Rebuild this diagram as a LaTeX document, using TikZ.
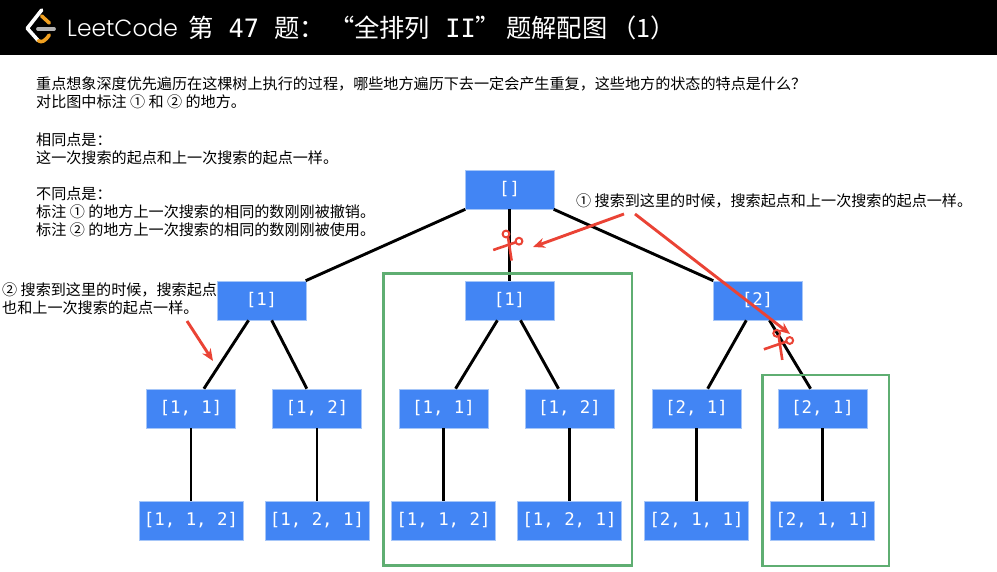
\documentclass[tikz,border=0pt]{standalone}
\usepackage{fontspec}
\setmainfont{Noto Sans CJK SC}
\newfontfamily\logofont{Poppins Light}
\setmonofont{DejaVu Sans Mono}
\usetikzlibrary{arrows.meta}
\definecolor{hdr}{HTML}{000000}
\definecolor{blu}{HTML}{4285F4}
\definecolor{blb}{HTML}{A6C6F8}
\definecolor{grn}{HTML}{5FAE72}
\definecolor{rd}{HTML}{EA4335}
\definecolor{org}{HTML}{F0A020}
\definecolor{gry}{HTML}{B3B3B3}
\newcommand\tm[1]{{\ttfamily #1}}
\tikzset{
  treenode/.style={draw=blb,line width=0.6pt,fill=blu,text=white,font=\ttfamily\fontsize{17.4}{18}\selectfont,minimum height=39pt,inner sep=0pt,anchor=center},
  nodeA/.style={treenode,minimum width=89pt},
  nodeB/.style={treenode,minimum width=104pt},
  edge/.style={draw=black,line width=2.9pt},
  redarrow/.style={draw=rd,line width=2.9pt,-{Stealth[length=12pt,width=10pt]}},
  greenbox/.style={draw=grn,line width=2.8pt},
  note/.style={anchor=north west,inner sep=0pt,align=left,font=\fontsize{15.1}{18}\selectfont,text=black},
  scissor/.pic={
    \draw[rd,line width=2pt] (-3.6,-8.6) circle (3.4pt);
    \draw[rd,line width=2pt] (9.4,-1.4) circle (3.4pt);
    \draw[rd,line width=2.6pt] (-1.6,-5.6) -- (2,18);
    \draw[rd,line width=2.6pt] (6.4,-0.4) -- (-16.4,7.4);
  }
}
\begin{document}
\begin{tikzpicture}[x=1pt,y=-1pt]
\useasboundingbox (0,0) rectangle (997,572);
\fill[hdr] (0,0) rectangle (997,55);
% logo
\draw[white,line width=3.6pt,line cap=round,line join=round] (41.7,10) -- (27.3,28.3) -- (38.3,40.7);
\draw[org,line width=3.6pt,line cap=round,line join=round] (41.7,16) -- (49.3,23);
\draw[org,line width=3.6pt,line cap=round,line join=round] (38.3,40.7) .. controls (42,43) and (45,41) .. (49.3,35);
\draw[gry,line width=3.8pt,line cap=round] (38,29) -- (54,29);
\node[anchor=west,inner sep=0pt,text=white,font=\logofont\fontsize{23.4}{25}\selectfont] (logo) at (67,28) {LeetCode};
\node[anchor=west,inner sep=0pt,text=white,font=\fontsize{25.3}{25}\selectfont] (title) at (188,28) {第\tm{ 47 }题：\hspace{4pt}“全排列\tm{ II}”\hspace{5pt}题解配图\hspace{4pt}（1）};
% texts
\node[note] (t1) at (36,77) {重点想象深度优先遍历在这棵树上执行的过程，哪些地方遍历下去一定会产生重复，这些地方的状态的特点是什么？\\对比图中标注 ① 和 ② 的地方。};
\node[note] (t2) at (36,133) {相同点是：\\这一次搜索的起点和上一次搜索的起点一样。};
\node[note] (t3) at (36,187) {不同点是：\\标注 ① 的地方上一次搜索的相同的数刚刚被撤销。\\标注 ② 的地方上一次搜索的相同的数刚刚被使用。};
\node[note] (t4) at (576,194) {① 搜索到这里的时候，搜索起点和上一次搜索的起点一样。};
\node[note] (t5) at (2,283) {② 搜索到这里的时候，搜索起点\\也和上一次搜索的起点一样。};
% tree nodes
\node[nodeA] (r) at (509.5,189.5) {[]};
\node[nodeA] (a) at (261.5,300.5) {[1]};
\node[nodeA] (b) at (509.5,300.5) {[1]};
\node[nodeA] (c) at (757.5,300.5) {[2]};
\node[nodeA] (a1) at (191,408.5) {[1, 1]};
\node[nodeA] (a2) at (317,408.5) {[1, 2]};
\node[nodeA] (b1) at (443.5,408.5) {[1, 1]};
\node[nodeA] (b2) at (569.5,408.5) {[1, 2]};
\node[nodeA] (c1) at (696.5,408.5) {[2, 1]};
\node[nodeA] (c2) at (822.5,408.5) {[2, 1]};
\node[nodeB] (a1x) at (191,520.5) {[1, 1, 2]};
\node[nodeB] (a2x) at (317,520.5) {[1, 2, 1]};
\node[nodeB] (b1x) at (443.5,520.5) {[1, 1, 2]};
\node[nodeB] (b2x) at (569.5,520.5) {[1, 2, 1]};
\node[nodeB] (c1x) at (696.5,520.5) {[2, 1, 1]};
\node[nodeB] (c2x) at (822.5,520.5) {[2, 1, 1]};
% edges
\draw[edge] (r) -- (a);
\draw[edge] (r) -- (b);
\draw[edge] (r) -- (c);
\draw[edge] (a) -- (a1);
\draw[edge] (a) -- (a2);
\draw[edge] (b) -- (b1);
\draw[edge] (b) -- (b2);
\draw[edge] (c) -- (c1);
\draw[edge] (c) -- (c2);
\draw[edge] (a1) -- (a1x);
\draw[edge] (a2) -- (a2x);
\draw[edge] (b1) -- (b1x);
\draw[edge] (b2) -- (b2x);
\draw[edge] (c1) -- (c1x);
\draw[edge] (c2) -- (c2x);
% green boxes
\draw[greenbox] (383.5,273.5) rectangle (632,565.5);
\draw[greenbox] (762.5,375) rectangle (889,566);
% scissors
\pic at (509.6,242.6) {scissor};
\pic at (780.3,341.9) {scissor};
% red arrows
\coordinate (n1a) at (624,214);
\coordinate (n1b) at (533,247);
\coordinate (n1c) at (635,214);
\coordinate (n1d) at (790,334);
\coordinate (n2a) at (187,321);
\coordinate (n2b) at (213,361);
\draw[redarrow] (n1a) -- (n1b);
\draw[redarrow] (n1c) -- (n1d);
\draw[redarrow] (n2a) -- (n2b);
\end{tikzpicture}
\end{document}
